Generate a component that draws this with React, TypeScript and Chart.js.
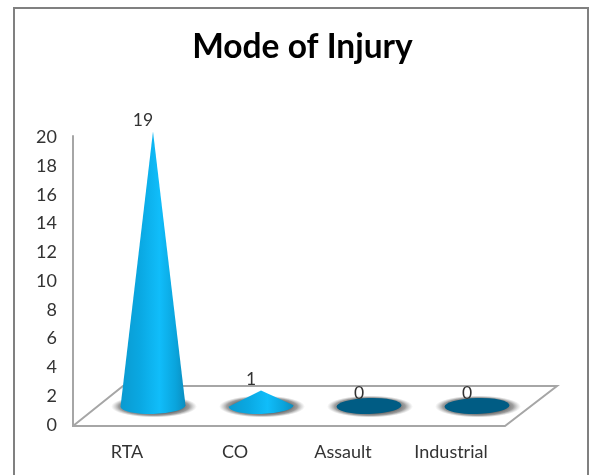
import React, { useEffect, useRef } from "react";
import { Chart, registerables } from "chart.js";

Chart.register(...registerables);

const categories = ["RTA", "CO", "Assault", "Industrial"];
const injuries = [19, 1, 0, 0];
const title = "Mode of Injury";
const FONT = "Lato, 'Open Sans', sans-serif";

const pseudo3d = {
  id: "pseudo3d",
  beforeDraw(chart: any) {
    const { ctx, chartArea: a, scales } = chart;
    const y0 = scales.y.getPixelForValue(0);
    ctx.save();
    // outer frame (bottom edge lies beyond the picture)
    ctx.strokeStyle = "#808080";
    ctx.lineWidth = 2;
    ctx.strokeRect(14, 8, 574, 480);
    // floor + value axis line
    ctx.strokeStyle = "#a6a6a6";
    ctx.beginPath();
    ctx.moveTo(a.left, a.top - 2);
    ctx.lineTo(a.left, y0 + 1);
    ctx.lineTo(a.right, y0 + 1);
    ctx.lineTo(a.right + 52, y0 - 39);
    ctx.lineTo(a.left + 50, y0 - 39);
    ctx.lineTo(a.left, y0 + 1);
    ctx.stroke();
    ctx.restore();
  },
  afterDatasetsDraw(chart: any) {
    const { ctx, scales } = chart;
    const meta = chart.getDatasetMeta(0);
    const y0 = scales.y.getPixelForValue(0);
    const rx = 32.5;
    const ry = 8;
    const tilt = -0.025;
    meta.data.forEach((bar: any, i: number) => {
      const cx = bar.x + 26;
      const by = y0 - 19;
      const value = injuries[i];
      const apex = scales.y.getPixelForValue(value) - 20;

      // soft shadow on the floor
      ctx.save();
      ctx.translate(cx + 1, by + 0.5);
      ctx.scale(43, 11);
      const glow = ctx.createRadialGradient(0, 0, 0.6, 0, 0, 1);
      glow.addColorStop(0, "rgba(90,90,90,1)");
      glow.addColorStop(0.55, "rgba(125,125,125,0.75)");
      glow.addColorStop(1, "rgba(170,170,170,0)");
      ctx.fillStyle = glow;
      ctx.beginPath();
      ctx.arc(0, 0, 1, 0, Math.PI * 2);
      ctx.fill();
      ctx.restore();

      if (value > 0) {
        const g = ctx.createLinearGradient(cx - rx, 0, cx + rx, 0);
        g.addColorStop(0, "#0a9ad0");
        g.addColorStop(0.3, "#0aa8e2");
        g.addColorStop(0.6, "#10bdfa");
        g.addColorStop(0.85, "#0aa4dc");
        g.addColorStop(1, "#0b8dbf");
        ctx.fillStyle = g;
        ctx.beginPath();
        ctx.moveTo(cx, apex);
        ctx.lineTo(cx + rx * Math.cos(tilt), by + rx * Math.sin(tilt));
        ctx.ellipse(cx, by, rx, ry, tilt, 0, Math.PI);
        ctx.closePath();
        ctx.fill();
      } else {
        // a zero-height cone is only its base disc
        ctx.fillStyle = "#005c84";
        ctx.beginPath();
        ctx.ellipse(cx, by, rx, ry, tilt, 0, Math.PI * 2);
        ctx.fill();
      }

      // value label
      ctx.fillStyle = "#333333";
      ctx.font = `17.5px ${FONT}`;
      ctx.textAlign = "center";
      ctx.textBaseline = "middle";
      ctx.fillText(String(value), bar.x + 16, scales.y.getPixelForValue(value) - 31.5);
    });
  },
};

export default function App() {
  const ref = useRef<HTMLCanvasElement>(null);
  useEffect(() => {
    const chart = new Chart(ref.current!, {
      type: "bar",
      data: {
        labels: categories,
        datasets: [{ data: injuries, backgroundColor: "transparent", borderWidth: 0 }],
      },
      options: {
        responsive: false,
        animation: false,
        layout: { padding: { left: 14, right: 0, top: 0, bottom: 0 } },
        plugins: {
          legend: { display: false },
          tooltip: { enabled: false },
          title: {
            display: true,
            text: title,
            color: "#000000",
            font: { family: FONT, size: 33.5, weight: "bold" },
            padding: { top: 27, bottom: 70 },
          },
        },
        scales: {
          x: {
            grid: { display: false },
            border: { display: false },
            ticks: { color: "#333333", font: { family: FONT, size: 18 }, padding: 8, maxRotation: 0 },
            afterFit(s: any) { s.height = 50; },
          },
          y: {
            min: 0,
            max: 20,
            grid: { display: false },
            border: { display: false },
            ticks: { stepSize: 2, color: "#333333", font: { family: FONT, size: 18 }, padding: 8 },
            afterFit(s: any) { s.width = 59; },
          },
          y2: {
            position: "right",
            grid: { display: false },
            border: { display: false },
            ticks: { display: false },
            afterFit(s: any) { s.width = 86; },
          },
        },
      },
      plugins: [pseudo3d],
    } as any);
    return () => chart.destroy();
  }, []);
  return (
    <canvas
      ref={ref}
      width={591}
      height={475}
      style={{ position: "fixed", left: 0, top: 0, display: "block", background: "#fff" }}
    />
  );
}
